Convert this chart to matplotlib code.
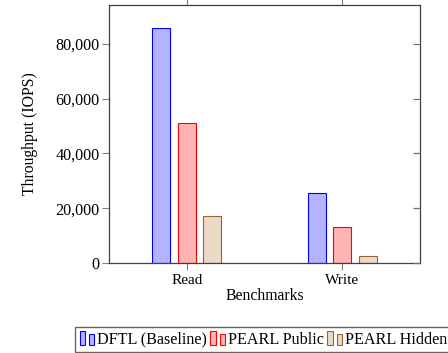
import matplotlib
matplotlib.use("Agg")
import matplotlib.pyplot as plt
from matplotlib.patches import Rectangle
from matplotlib.legend_handler import HandlerBase
from matplotlib.ticker import FuncFormatter

benchmarks = ["Read", "Write"]
series = ["DFTL (Baseline)", "PEARL Public", "PEARL Hidden"]
dftl = [85700, 25500]
pearl_public = [51000, 13000]
pearl_hidden = [17000, 2400]

fills = [(0.7, 0.7, 1.0), (1.0, 0.7, 0.7), (0.925, 0.85, 0.775)]
edges = ["blue", "red", (0.6, 0.4, 0.2)]

plt.rcParams["font.family"] = ["Liberation Serif", "DejaVu Serif"]
plt.rcParams["font.size"] = 11.6


class TwoBarHandler(HandlerBase):
    # pgfplots style ybar legend: two little bars
    def create_artists(self, legend, orig_handle, xdescent, ydescent,
                       width, height, fontsize, trans):
        fc = orig_handle.get_facecolor()
        ec = orig_handle.get_edgecolor()
        r1 = Rectangle((-xdescent, -ydescent - 1), width * 0.36, height * 1.25,
                       facecolor=fc, edgecolor=ec, lw=0.8, transform=trans)
        r2 = Rectangle((-xdescent + width * 0.66, -ydescent - 1), width * 0.32, height * 1.0,
                       facecolor=fc, edgecolor=ec, lw=0.8, transform=trans)
        return [r1, r2]


fig = plt.figure(figsize=(4.48, 3.53), dpi=100)
ax = fig.add_axes([0.2433, 0.2550, 0.6942, 0.7309])

x = [0, 1]
width = 0.114
offset = 0.164
handles = []
for i, vals in enumerate([dftl, pearl_public, pearl_hidden]):
    pos = [xi + (i - 1) * offset for xi in x]
    b = ax.bar(pos, vals, width, color=fills[i], edgecolor=edges[i],
               linewidth=0.8, label=series[i])
    handles.append(b.patches[0])

ax.set_xlim(-0.5, 1.5)
ax.set_ylim(0, 94250)
ax.set_xticks(x)
ax.set_xticklabels(benchmarks, fontsize=11)
ax.set_yticks([0, 20000, 40000, 60000, 80000])
ax.yaxis.set_major_formatter(FuncFormatter(lambda v, p: f"{int(v):,}"))

for s in ax.spines.values():
    s.set_color("#404040")
    s.set_linewidth(0.9)
ax.tick_params(axis="x", direction="out", top=True, length=5, color="#808080", pad=3)
ax.tick_params(axis="y", direction="out", length=5, color="#808080", pad=2)

# right side ticks point inward (pgfplots look)
ax2 = ax.twinx()
ax2.set_ylim(ax.get_ylim())
ax2.set_yticks(ax.get_yticks())
ax2.tick_params(axis="y", direction="in", length=5, width=0.9, color="#707070",
                labelright=False)
for s in ax2.spines.values():
    s.set_visible(False)

ax.set_xlabel("Benchmarks", labelpad=1, fontsize=11.3)
ax.set_ylabel("Throughput (IOPS)", labelpad=12, fontsize=11.3)

fig.legend(handles, series, loc="upper left", bbox_to_anchor=(0.1667, 0.0745),
           ncol=3, frameon=True, fancybox=False, edgecolor="#404040",
           borderaxespad=0, handler_map={Rectangle: TwoBarHandler()},
           handlelength=0.92, handletextpad=0.17, columnspacing=0.22,
           borderpad=0.3, fontsize=11.6)

fig.savefig("out.png", dpi=100)
